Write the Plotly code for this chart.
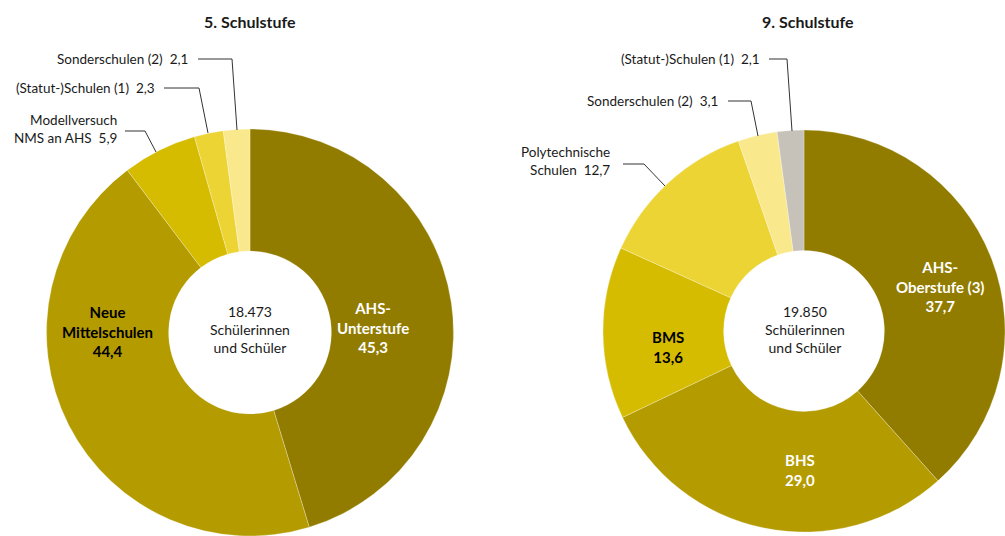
import plotly.graph_objects as go

W, H = 1005, 536

# 5. Schulstufe
left_labels = ["AHS-Unterstufe", "Neue Mittelschulen", "Modellversuch NMS an AHS",
               "(Statut-)Schulen (1)", "Sonderschulen (2)"]
left_values = [45.3, 44.4, 5.9, 2.3, 2.1]
left_colors = ["#927c00", "#b39b00", "#d5bc00", "#edd435", "#f9e98c"]
left_total = "18.473"

# 9. Schulstufe
right_labels = ["AHS-Oberstufe (3)", "BHS", "BMS", "Polytechnische Schulen",
                "Sonderschulen (2)", "(Statut-)Schulen (1)"]
right_values = [37.7, 29.0, 13.6, 12.7, 3.1, 2.1]
right_colors = ["#927c00", "#b39b00", "#d5bc00", "#edd435", "#f9e98c", "#c6c2b9"]
right_total = "19.850"

FONT = "Lato"
NB = "\u00a0"


def px(x, y):
    # pixel position -> paper coordinates
    return x / W, 1 - y / H


def fmt(v):
    return f"{v:.1f}".replace(".", ",")


def dom(x0, x1, y0, y1):
    a, b = px(x0, y1)
    c, d = px(x1, y0)
    return dict(x=[max(a, 0), min(c, 1)], y=[max(b, 0), min(d, 1)])


fig = go.Figure()
for labels, values, colors, d in [
    (left_labels, left_values, left_colors, dom(46, 454, 129, 537)),
    (right_labels, right_values, right_colors, dom(603, 1005, 130, 532)),
]:
    fig.add_trace(go.Pie(
        labels=labels, values=values, sort=False, direction="clockwise",
        rotation=0, hole=0.4, textinfo="none", hoverinfo="label+value",
        marker=dict(colors=colors, line=dict(color="rgba(255,255,255,0.45)", width=0.6)),
        domain=d, showlegend=False,
    ))

annotations = []


def note(x, y, text, size=13.5, color="#1a1a1a", bold=False, anchor="center", align="center"):
    ax, ay = px(x, y)
    if bold:
        text = "<b>" + text + "</b>"
    annotations.append(dict(
        x=ax, y=ay, xref="paper", yref="paper", text=text, showarrow=False,
        xanchor=anchor, yanchor="middle", align=align,
        font=dict(family=FONT, size=size, color=color),
    ))


# titles
note(250, 22, "5. Schulstufe", size=16, bold=True)
note(808, 22, "9. Schulstufe", size=16, bold=True)

# centre texts
note(250, 330, f"{left_total}<br>Schülerinnen<br>und Schüler", size=14)
note(805, 330, f"{right_total}<br>Schülerinnen<br>und Schüler", size=14)

# inside labels
note(373, 327, f"AHS-<br>Unterstufe<br>{fmt(left_values[0])}", size=15, color="white", bold=True)
note(107, 331, f"Neue<br>Mittelschulen<br>{fmt(left_values[1])}", size=15, color="black", bold=True)
note(940, 286, f"AHS-<br>Oberstufe (3)<br>{fmt(right_values[0])}", size=15, color="white", bold=True)
note(800, 470, f"BHS<br>{fmt(right_values[1])}", size=15, color="white", bold=True)
note(668, 347, f"BMS<br>{fmt(right_values[2])}", size=15, color="black", bold=True)

# outside labels
sp = NB * 2
note(190, 59, f"Sonderschulen (2){sp}{fmt(left_values[4])}", anchor="right", align="right")
note(157, 88, f"(Statut-)Schulen (1){sp}{fmt(left_values[3])}", anchor="right", align="right")
note(119, 129, f"Modellversuch<br>NMS an AHS{sp}{fmt(left_values[2])}", anchor="right", align="right")
note(762, 59, f"(Statut-)Schulen (1){sp}{fmt(right_values[5])}", anchor="right", align="right")
note(720, 101, f"Sonderschulen (2){sp}{fmt(right_values[4])}", anchor="right", align="right")
note(612, 161, f"Polytechnische<br>Schulen{sp}{fmt(right_values[3])}", anchor="right", align="right")

# leader lines
leaders = [
    [(198, 59), (232, 59), (237, 130)],
    [(164, 88), (199, 88), (208, 133)],
    [(125, 131), (145, 131), (156, 152)],
    [(769, 59), (787, 59), (792, 131)],
    [(728, 101), (751, 101), (758, 136)],
    [(623, 164), (644, 164), (665, 186)],
]
shapes = []
for pts in leaders:
    path = ""
    for i, (x, y) in enumerate(pts):
        a, b = px(x, y)
        path += ("M " if i == 0 else " L ") + f"{a} {b}"
    shapes.append(dict(type="path", path=path, xref="paper", yref="paper",
                       line=dict(color="#333333", width=1)))

fig.update_layout(
    width=W, height=H,
    margin=dict(l=0, r=0, t=0, b=0),
    paper_bgcolor="white", plot_bgcolor="white",
    annotations=annotations, shapes=shapes,
    font=dict(family=FONT),
)

# drop the default 8px page margin so the figure fills the window exactly
fig.write_html("out.html", config={"displayModeBar": False},
               post_script="document.body.style.margin = '0';")
